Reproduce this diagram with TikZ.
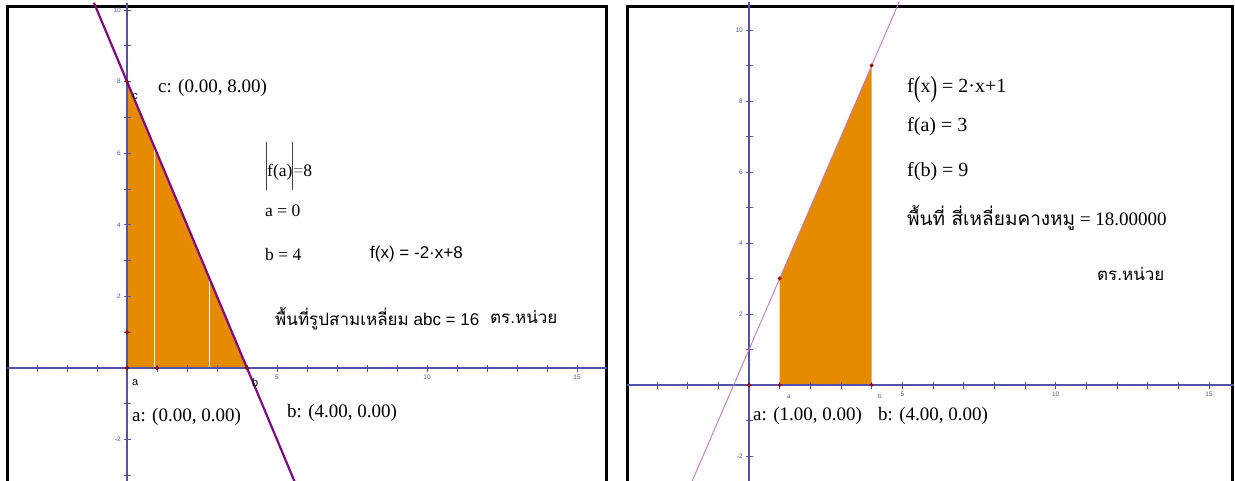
\documentclass[tikz,border=0pt]{standalone}
\usepackage{fontspec}
\usepackage{graphicx}
\setmainfont{Liberation Serif}
\newfontfamily\ggsans{Liberation Sans}
\newfontfamily\thaifont[Script=Thai]{Loma}
\definecolor{gg_axis}{HTML}{5252A8}
\definecolor{gg_orange}{HTML}{E68A00}
\definecolor{gg_purple}{HTML}{7E0A84}
\definecolor{gg_orchid}{HTML}{C27AC6}
\definecolor{gg_red}{HTML}{C80000}
\newcommand{\tallparen}[1]{\raisebox{-0.17em}{\scalebox{1}[1.45]{#1}}}

\begin{document}
\begin{tikzpicture}[x=1pt, y=1pt,
        frame/.style={line width=3pt, black},
        axis/.style={gg_axis, line width=1.3pt},
        tick/.style={gg_axis, line width=0.9pt},
        ticklbl/.style={gg_axis, inner sep=0pt, font=\ggsans\fontsize{6.5}{7}\selectfont},
        ptlbl/.style={inner sep=0pt, font=\ggsans\fontsize{11}{12}\selectfont},
        ggpoint/.style={fill=gg_red, draw=gg_red!60!black, line width=0.3pt},
        txt/.style={anchor=base west, inner sep=0pt, font=\fontsize{19}{22}\selectfont},
        sanstxt/.style={anchor=base west, inner sep=0pt, font=\ggsans\fontsize{17}{20}\selectfont}]

    \useasboundingbox (0,0) rectangle (1235,480);

    % left window: f(x) = -2x+8
    \draw[frame] (7,-5) -- (7,473) -- (606,473) -- (606,-5);
    \begin{scope}[shift={(127,112)}, x=30pt, y=35.8pt]
        \fill[gg_orange] (0,0) -- (0,8) -- (4,0) -- cycle;
        \foreach \u in {0.9, 2.75}
            \draw[white, line width=0.8pt] (\u,0) -- (\u,{8-2*\u});
        \draw[axis] (-4,0) -- (16,0);
        \draw[axis] (0,-3.3) -- (0,10.2);
        \foreach \u in {-3,...,15}
            \draw[tick] (\u,0) ++(0,-3.5pt) -- ++(0,7pt);
        \foreach \v in {-3,...,10}
            \draw[tick] (0,\v) ++(-3.5pt,0) -- ++(7pt,0);
        \foreach \u in {5,10,15}
            \node[ticklbl, below=7pt] (lx\u) at (\u,0) {\u};
        \foreach \v in {-2,2,4,6,8,10}
            \node[ticklbl, left=6pt] (ly\v) at (0,\v) {\v};
        \draw[gg_purple, line width=2.2pt] plot[domain=-1.1:5.65] (\x,{-2*\x+8});
        \foreach \p in {(0,0),(1,0),(4,0),(0,1),(0,8)}
            \filldraw[ggpoint] \p circle (1.8pt);
        \node[ptlbl] (la) at (0.27,-0.42) {a};
        \node[ptlbl] (lb) at (4.27,-0.42) {b};
        \node[ptlbl] (lc) at (0.27,7.57) {c};
    \end{scope}

    \node[txt] (cpt) at (158,387) {c: (0.00, 8.00)};
    \node[txt, font=\fontsize{17.5}{20}\selectfont] (fa) at (266,303)
        {{\color{black!75}\rule[-13pt]{1pt}{48pt}}f(a){\color{black!75}\rule[-13pt]{1pt}{48pt}}{\color{black!55}=}8};
    \node[txt, font=\fontsize{17.5}{20}\selectfont] (aval) at (265,263) {a = 0};
    \node[txt, font=\fontsize{17.5}{20}\selectfont] (bval) at (265,219) {b = 4};
    \node[sanstxt] (fx) at (370,221) {f(x) = -2·x+8};
    \node[sanstxt] (area) at (275,155) {{\thaifont พื้นที่รูปสามเหลี่ยม} abc = 16};
    \node[txt, font=\thaifont\fontsize{17}{20}\selectfont] (unit) at (490,157) {ตร.หน่วย};
    \node[txt] (apt) at (132,59) {a: (0.00, 0.00)};
    \node[txt] (bpt) at (287,63) {b: (4.00, 0.00)};

    % right window: f(x) = 2x+1
    \draw[frame] (627,-5) -- (627,473) -- (1232,473) -- (1232,-5);
    \begin{scope}[shift={(749,95)}, x=30.67pt, y=35.5pt]
        \fill[gg_orange] (1,0) -- (1,3) -- (4,9) -- (4,0) -- cycle;
        \draw[axis] (-3.98,0) -- (15.8,0);
        \draw[axis] (0,-2.8) -- (0,10.8);
        \foreach \u in {-3,...,15}
            \draw[tick] (\u,0) ++(0,-3.5pt) -- ++(0,7pt);
        \foreach \v in {-2,...,10}
            \draw[tick] (0,\v) ++(-3.5pt,0) -- ++(7pt,0);
        \foreach \u in {5,10,15}
            \node[ticklbl, below=7pt] (rx\u) at (\u,0) {\u};
        \foreach \v in {-2,2,4,6,8,10}
            \node[ticklbl, left=6pt] (ry\v) at (0,\v) {\v};
        \draw[gg_orchid, line width=0.9pt] plot[domain=-1.9:4.9] (\x,{2*\x+1});
        \foreach \p in {(0,0),(1,0),(4,0),(1,3),(4,9)}
            \filldraw[ggpoint] \p circle (1.8pt);
        \node[ticklbl] (ra) at (1.3,-0.34) {a};
        \node[ticklbl] (rb) at (4.27,-0.31) {b};
    \end{scope}

    \node[txt, font=\fontsize{20}{24}\selectfont] (gx) at (907,387)
        {f\tallparen{(}x\tallparen{)} = 2·x+1};
    \node[txt, font=\fontsize{20}{24}\selectfont] (ga) at (907,348) {f(a) = 3};
    \node[txt, font=\fontsize{20}{24}\selectfont] (gb) at (907,303) {f(b) = 9};
    \node[txt, font=\fontsize{19}{22}\selectfont] (trap) at (907,254)
        {{\thaifont พื้นที่ สี่เหลี่ยมคางหมู} = 18.00000};
    \node[txt, font=\thaifont\fontsize{17}{20}\selectfont] (unit2) at (1097,200) {ตร.หน่วย};
    \node[txt] (apt2) at (753,60) {a: (1.00, 0.00)};
    \node[txt] (bpt2) at (878,60) {b: (4.00, 0.00)};
\end{tikzpicture}
\end{document}
